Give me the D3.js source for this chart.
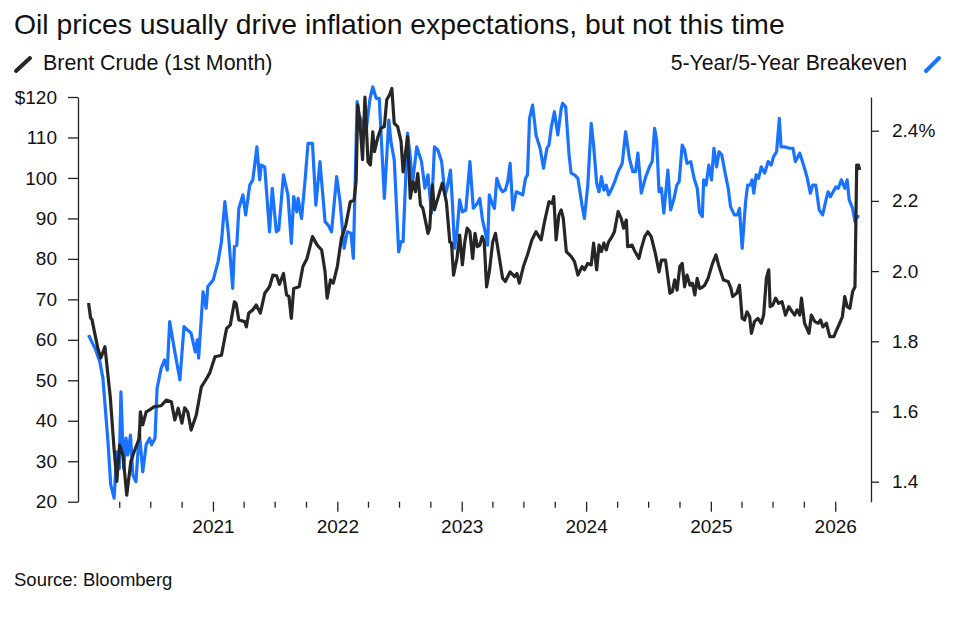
<!DOCTYPE html>
<html>
<head>
<meta charset="utf-8">
<script src="https://cdn.jsdelivr.net/npm/d3@7"></script>
<style>
  body { margin: 0; background: #fff; }
  text { font-family: "Liberation Sans", Arial, sans-serif; fill: #111; }
</style>
</head>
<body>
<div id="chart"></div>
<script>
const w = 959;
const h = 620;

const titleText = 'Oil prices usually drive inflation expectations, but not this time';
const brentLabel = 'Brent Crude (1st Month)';
const breakevenLabel = '5-Year/5-Year Breakeven';
const sourceText = 'Source: Bloomberg';

const leftTicks = [20, 30, 40, 50, 60, 70, 80, 90, 100, 110, 120];
const rightTicks = [1.4, 1.6, 1.8, 2.0, 2.2, 2.4];
const yearTicks = ['2021-01-01', '2022-01-01', '2023-01-01', '2024-01-01', '2025-01-01', '2026-01-01'];
const quarterTicks = [
    '2020-04-01', '2020-07-01', '2020-10-01', '2021-04-01', '2021-07-01', '2021-10-01',
    '2022-04-01', '2022-07-01', '2022-10-01', '2023-04-01', '2023-07-01', '2023-10-01',
    '2024-04-01', '2024-07-01', '2024-10-01', '2025-04-01', '2025-07-01', '2025-10-01'
];

// Brent crude, $ per barrel (left axis)
const brent = [
    ['2020-01-02', 69.1], ['2020-01-08', 65.4], ['2020-01-12', 65.0], ['2020-01-29', 58.0], ['2020-02-07', 55.5],
    ['2020-02-19', 58.3], ['2020-03-06', 45.6], ['2020-03-16', 34.0], ['2020-03-25', 25.0], ['2020-04-02', 34.0],
    ['2020-04-12', 31.5], ['2020-04-23', 21.6], ['2020-05-05', 29.9], ['2020-05-15', 32.4], ['2020-05-30', 35.7],
    ['2020-06-02', 42.2], ['2020-06-09', 39.0], ['2020-06-19', 42.2], ['2020-06-29', 42.7], ['2020-07-13', 43.5],
    ['2020-08-02', 43.7], ['2020-08-17', 45.1], ['2020-09-01', 44.7], ['2020-09-11', 40.2], ['2020-09-21', 43.1],
    ['2020-10-02', 39.4], ['2020-10-10', 43.2], ['2020-10-19', 42.2], ['2020-10-29', 37.7], ['2020-11-13', 41.4],
    ['2020-11-28', 48.4], ['2020-12-08', 49.7], ['2020-12-22', 51.7], ['2021-01-07', 55.8], ['2021-01-26', 56.2],
    ['2021-02-10', 62.8], ['2021-02-21', 63.7], ['2021-03-05', 69.4], ['2021-03-10', 69.0], ['2021-03-18', 64.9],
    ['2021-04-04', 64.5], ['2021-04-09', 63.2], ['2021-04-16', 66.6], ['2021-04-28', 67.4], ['2021-05-08', 68.6],
    ['2021-05-20', 66.6], ['2021-06-02', 71.5], ['2021-06-16', 73.1], ['2021-06-26', 76.0], ['2021-07-07', 75.8],
    ['2021-07-15', 73.7], ['2021-07-27', 76.4], ['2021-08-05', 71.1], ['2021-08-12', 70.7], ['2021-08-19', 65.3],
    ['2021-08-26', 72.7], ['2021-09-11', 73.1], ['2021-09-22', 78.1], ['2021-10-04', 80.1], ['2021-10-20', 85.5],
    ['2021-11-03', 83.4], ['2021-11-16', 82.2], ['2021-11-26', 76.8], ['2021-12-02', 70.3], ['2021-12-12', 74.8],
    ['2021-12-20', 74.0], ['2022-01-01', 78.1], ['2022-01-13', 85.1], ['2022-01-26', 88.4], ['2022-02-08', 94.1],
    ['2022-02-19', 94.5], ['2022-02-25', 99.1], ['2022-03-02', 118.0], ['2022-03-09', 113.0], ['2022-03-16', 104.5],
    ['2022-03-23', 120.0], ['2022-04-01', 104.0], ['2022-04-08', 103.2], ['2022-04-15', 111.4], ['2022-04-20', 106.5],
    ['2022-04-29', 109.8], ['2022-05-09', 112.3], ['2022-05-19', 112.7], ['2022-05-26', 119.3], ['2022-06-03', 120.5],
    ['2022-06-10', 122.1], ['2022-06-17', 113.5], ['2022-06-27', 112.7], ['2022-07-07', 109.0], ['2022-07-13', 101.5],
    ['2022-07-26', 110.2], ['2022-08-03', 95.0], ['2022-08-11', 99.1], ['2022-08-18', 96.6], ['2022-08-25', 101.1],
    ['2022-09-02', 93.3], ['2022-09-09', 92.5], ['2022-09-24', 86.3], ['2022-09-29', 87.6], ['2022-10-07', 98.3],
    ['2022-10-13', 92.1], ['2022-10-23', 95.0], ['2022-11-05', 98.7], ['2022-11-17', 94.1], ['2022-11-27', 84.2],
    ['2022-12-02', 83.9], ['2022-12-08', 76.0], ['2022-12-18', 80.1], ['2022-12-26', 85.9], ['2023-01-03', 78.5],
    ['2023-01-10', 84.2], ['2023-01-17', 87.6], ['2023-01-25', 86.7], ['2023-02-02', 80.1], ['2023-02-09', 86.3],
    ['2023-02-16', 83.0], ['2023-02-23', 83.4], ['2023-03-02', 85.5], ['2023-03-08', 84.2], ['2023-03-15', 73.1],
    ['2023-03-23', 76.8], ['2023-04-02', 84.2], ['2023-04-10', 86.3], ['2023-04-20', 81.0], ['2023-05-01', 75.2],
    ['2023-05-09', 74.4], ['2023-05-23', 76.8], ['2023-06-05', 75.6], ['2023-06-12', 76.4], ['2023-06-19', 74.0],
    ['2023-07-01', 78.1], ['2023-07-13', 81.0], ['2023-07-26', 84.7], ['2023-08-07', 86.7], ['2023-08-22', 84.7],
    ['2023-09-01', 89.2], ['2023-09-14', 94.1], ['2023-09-24', 93.7], ['2023-09-28', 95.4], ['2023-10-05', 84.7],
    ['2023-10-13', 90.8], ['2023-10-20', 92.1], ['2023-10-26', 90.0], ['2023-11-04', 81.8], ['2023-11-18', 80.6],
    ['2023-11-28', 79.3], ['2023-12-08', 76.0], ['2023-12-20', 78.1], ['2023-12-27', 77.3], ['2024-01-06', 78.9],
    ['2024-01-16', 78.5], ['2024-01-23', 83.9], ['2024-02-01', 77.3], ['2024-02-08', 83.4], ['2024-02-15', 81.8],
    ['2024-02-22', 83.9], ['2024-02-29', 82.2], ['2024-03-07', 84.2], ['2024-03-17', 85.5], ['2024-03-24', 86.7],
    ['2024-04-04', 91.7], ['2024-04-13', 90.0], ['2024-04-20', 87.6], ['2024-04-28', 89.6], ['2024-05-02', 83.0],
    ['2024-05-15', 83.4], ['2024-05-21', 82.2], ['2024-06-04', 80.1], ['2024-06-11', 82.6], ['2024-06-21', 85.5],
    ['2024-06-30', 86.7], ['2024-07-10', 85.5], ['2024-07-22', 81.4], ['2024-08-02', 76.8], ['2024-08-09', 79.7],
    ['2024-08-21', 79.7], ['2024-09-03', 71.5], ['2024-09-10', 71.9], ['2024-09-17', 74.8], ['2024-09-24', 72.3],
    ['2024-10-02', 78.1], ['2024-10-09', 78.9], ['2024-10-16', 73.1], ['2024-10-23', 76.0], ['2024-11-01', 73.5],
    ['2024-11-08', 74.0], ['2024-11-15', 71.1], ['2024-11-22', 75.2], ['2024-11-29', 72.7], ['2024-12-07', 73.0],
    ['2024-12-14', 73.5], ['2024-12-24', 75.2], ['2025-01-06', 78.9], ['2025-01-16', 81.0], ['2025-01-25', 78.1],
    ['2025-02-07', 74.8], ['2025-02-21', 74.4], ['2025-03-01', 72.7], ['2025-03-06', 70.7], ['2025-03-18', 71.5],
    ['2025-03-26', 73.5], ['2025-04-03', 65.3], ['2025-04-10', 64.9], ['2025-04-17', 66.9], ['2025-04-25', 65.7],
    ['2025-04-30', 61.6], ['2025-05-09', 64.5], ['2025-05-19', 65.3], ['2025-05-29', 64.1], ['2025-06-05', 66.1],
    ['2025-06-13', 75.2], ['2025-06-20', 77.3], ['2025-06-24', 68.2], ['2025-07-02', 68.6], ['2025-07-10', 70.3],
    ['2025-07-19', 69.0], ['2025-07-29', 69.4], ['2025-08-08', 66.1], ['2025-08-18', 68.2], ['2025-08-28', 66.9],
    ['2025-09-04', 66.1], ['2025-09-11', 67.4], ['2025-09-19', 66.1], ['2025-09-24', 70.3], ['2025-10-03', 64.1],
    ['2025-10-16', 61.6], ['2025-10-23', 66.1], ['2025-11-02', 64.5], ['2025-11-12', 64.1], ['2025-11-19', 64.9],
    ['2025-11-26', 63.2], ['2025-12-06', 64.1], ['2025-12-16', 60.8], ['2025-12-28', 60.8], ['2026-01-05', 62.4],
    ['2026-01-14', 64.1], ['2026-01-22', 65.7], ['2026-01-29', 70.7], ['2026-02-05', 68.2], ['2026-02-13', 67.8],
    ['2026-02-21', 71.9], ['2026-02-28', 73.1], ['2026-03-05', 103.2], ['2026-03-10', 103.2], ['2026-03-14', 102.0]
];

// 5-year/5-year forward breakeven, % (right axis)
const breakeven = [
    ['2020-01-02', 1.818], ['2020-01-11', 1.799], ['2020-01-21', 1.780], ['2020-02-04', 1.742], ['2020-02-13', 1.695],
    ['2020-02-28', 1.514], ['2020-03-07', 1.391], ['2020-03-17', 1.353], ['2020-03-25', 1.485], ['2020-04-01', 1.438],
    ['2020-04-06', 1.656], ['2020-04-14', 1.438], ['2020-04-21', 1.524], ['2020-04-26', 1.476], ['2020-05-04', 1.533],
    ['2020-05-11', 1.419], ['2020-05-20', 1.400], ['2020-05-30', 1.542], ['2020-06-09', 1.428], ['2020-06-19', 1.505],
    ['2020-06-29', 1.524], ['2020-07-05', 1.505], ['2020-07-15', 1.524], ['2020-07-21', 1.666], ['2020-08-02', 1.723],
    ['2020-08-12', 1.747], ['2020-08-20', 1.718], ['2020-08-27', 1.856], ['2020-09-11', 1.770], ['2020-09-26', 1.690],
    ['2020-10-08', 1.842], ['2020-10-29', 1.823], ['2020-11-10', 1.770], ['2020-11-16', 1.804], ['2020-11-20', 1.752],
    ['2020-12-03', 1.941], ['2020-12-12', 1.894], ['2020-12-17', 1.956], ['2021-01-02', 1.975], ['2021-01-16', 2.027],
    ['2021-01-26', 2.084], ['2021-02-05', 2.198], ['2021-02-15', 2.110], ['2021-02-28', 1.951], ['2021-03-05', 2.070],
    ['2021-03-12', 2.074], ['2021-03-18', 2.179], ['2021-03-30', 2.217], ['2021-04-07', 2.160], ['2021-04-19', 2.245],
    ['2021-04-28', 2.260], ['2021-05-10', 2.354], ['2021-05-18', 2.260], ['2021-05-23', 2.302], ['2021-06-02', 2.297],
    ['2021-06-16', 2.112], ['2021-06-24', 2.236], ['2021-07-06', 2.112], ['2021-07-13', 2.117], ['2021-07-27', 2.274],
    ['2021-08-09', 2.217], ['2021-08-19', 2.079], ['2021-08-26', 2.212], ['2021-09-04', 2.169], ['2021-09-08', 2.207],
    ['2021-09-18', 2.150], ['2021-09-28', 2.255], ['2021-10-07', 2.364], ['2021-10-20', 2.364], ['2021-10-30', 2.188],
    ['2021-11-11', 2.312], ['2021-11-26', 2.141], ['2021-12-05', 2.131], ['2021-12-15', 2.112], ['2021-12-30', 2.269],
    ['2022-01-09', 2.198], ['2022-01-21', 2.065], ['2022-01-30', 2.112], ['2022-02-10', 2.108], ['2022-02-17', 2.036],
    ['2022-02-28', 2.483], ['2022-03-06', 2.445], ['2022-03-26', 2.397], ['2022-04-07', 2.492], ['2022-04-15', 2.525],
    ['2022-04-25', 2.492], ['2022-05-04', 2.492], ['2022-05-19', 2.207], ['2022-06-01', 2.430], ['2022-06-08', 2.364],
    ['2022-06-17', 2.317], ['2022-06-30', 2.055], ['2022-07-07', 2.084], ['2022-07-13', 2.084], ['2022-07-26', 2.393],
    ['2022-08-03', 2.326], ['2022-08-09', 2.245], ['2022-08-22', 2.354], ['2022-09-05', 2.312], ['2022-09-15', 2.236],
    ['2022-09-24', 2.274], ['2022-10-04', 2.165], ['2022-10-13', 2.354], ['2022-10-23', 2.345], ['2022-11-03', 2.312],
    ['2022-11-13', 2.217], ['2022-11-19', 2.236], ['2022-11-29', 2.288], ['2022-12-05', 2.188], ['2022-12-11', 2.065],
    ['2022-12-18', 2.112], ['2022-12-26', 2.203], ['2023-01-03', 2.169], ['2023-01-13', 2.174], ['2023-01-25', 2.312],
    ['2023-02-04', 2.179], ['2023-02-16', 2.193], ['2023-02-23', 2.207], ['2023-03-03', 2.146], ['2023-03-11', 2.112],
    ['2023-03-18', 2.074], ['2023-03-23', 2.217], ['2023-03-31', 2.193], ['2023-04-07', 2.179], ['2023-04-14', 2.264],
    ['2023-04-24', 2.236], ['2023-05-01', 2.226], ['2023-05-09', 2.231], ['2023-05-16', 2.255], ['2023-05-23', 2.307],
    ['2023-05-31', 2.174], ['2023-06-10', 2.226], ['2023-06-19', 2.222], ['2023-06-29', 2.217], ['2023-07-07', 2.264],
    ['2023-07-13', 2.274], ['2023-07-19', 2.435], ['2023-07-28', 2.473], ['2023-08-07', 2.388], ['2023-08-19', 2.350],
    ['2023-08-29', 2.293], ['2023-09-08', 2.350], ['2023-09-14', 2.359], ['2023-09-21', 2.411], ['2023-09-30', 2.454],
    ['2023-10-10', 2.388], ['2023-10-20', 2.464], ['2023-10-24', 2.478], ['2023-11-02', 2.468], ['2023-11-12', 2.331],
    ['2023-11-18', 2.279], ['2023-11-28', 2.274], ['2023-12-08', 2.264], ['2023-12-20', 2.188], ['2023-12-27', 2.150],
    ['2024-01-06', 2.245], ['2024-01-16', 2.421], ['2024-01-23', 2.359], ['2024-02-01', 2.250], ['2024-02-08', 2.226],
    ['2024-02-15', 2.269], ['2024-02-22', 2.231], ['2024-02-29', 2.245], ['2024-03-07', 2.217], ['2024-03-17', 2.236],
    ['2024-03-27', 2.260], ['2024-04-04', 2.283], ['2024-04-16', 2.307], ['2024-04-26', 2.397], ['2024-05-07', 2.321],
    ['2024-05-17', 2.283], ['2024-05-25', 2.283], ['2024-06-01', 2.336], ['2024-06-11', 2.222], ['2024-06-24', 2.269],
    ['2024-07-05', 2.297], ['2024-07-13', 2.312], ['2024-07-20', 2.407], ['2024-07-26', 2.373], ['2024-08-02', 2.226],
    ['2024-08-09', 2.236], ['2024-08-16', 2.165], ['2024-08-28', 2.288], ['2024-09-05', 2.174], ['2024-09-15', 2.207],
    ['2024-09-23', 2.245], ['2024-09-30', 2.255], ['2024-10-09', 2.359], ['2024-10-16', 2.345], ['2024-10-23', 2.307],
    ['2024-11-03', 2.312], ['2024-11-13', 2.264], ['2024-11-22', 2.236], ['2024-11-29', 2.167], ['2024-12-07', 2.155],
    ['2024-12-11', 2.260], ['2024-12-18', 2.245], ['2024-12-26', 2.302], ['2025-01-03', 2.260], ['2025-01-10', 2.350],
    ['2025-01-18', 2.297], ['2025-01-25', 2.340], ['2025-02-02', 2.331], ['2025-02-12', 2.279], ['2025-02-21', 2.236],
    ['2025-02-28', 2.183], ['2025-03-11', 2.160], ['2025-03-20', 2.160], ['2025-03-26', 2.179], ['2025-04-03', 2.065],
    ['2025-04-13', 2.198], ['2025-04-19', 2.245], ['2025-04-27', 2.245], ['2025-05-02', 2.260], ['2025-05-07', 2.222],
    ['2025-05-14', 2.274], ['2025-05-21', 2.264], ['2025-05-29', 2.297], ['2025-06-08', 2.279], ['2025-06-18', 2.312],
    ['2025-06-27', 2.302], ['2025-07-04', 2.326], ['2025-07-13', 2.340], ['2025-07-21', 2.435], ['2025-07-26', 2.354],
    ['2025-08-05', 2.354], ['2025-08-20', 2.350], ['2025-08-30', 2.350], ['2025-09-06', 2.312], ['2025-09-19', 2.336],
    ['2025-09-30', 2.302], ['2025-10-10', 2.269], ['2025-10-20', 2.222], ['2025-10-27', 2.245], ['2025-11-05', 2.245],
    ['2025-11-15', 2.174], ['2025-11-25', 2.160], ['2025-12-05', 2.203], ['2025-12-11', 2.226], ['2025-12-18', 2.212],
    ['2025-12-26', 2.226], ['2026-01-03', 2.240], ['2026-01-10', 2.236], ['2026-01-19', 2.260], ['2026-01-29', 2.236],
    ['2026-02-05', 2.260], ['2026-02-11', 2.203], ['2026-02-21', 2.179], ['2026-02-28', 2.141], ['2026-03-05', 2.155],
    ['2026-03-13', 2.155]
];

const parse = d3.timeParse('%Y-%m-%d');
const brentColor = '#262626';
const blueColor = '#1a73ff';

const plotLeft = 78, plotRight = 871, plotTop = 97, plotBottom = 501.7;

const svg = d3.select('#chart')
    .append('svg')
    .attr('width', w)
    .attr('height', h)
    .style('background-color', '#fff');

const xScale = d3.scaleTime()
    .domain([parse('2019-12-02'), parse('2026-04-16')])
    .range([plotLeft, plotRight]);
const yLeft = d3.scaleLinear().domain([20, 120]).range([plotBottom, plotTop]);
const yRight = d3.scaleLinear().domain([1.343, 2.496]).range([plotBottom, plotTop]);

// title, legend, source
svg.append('text').attr('x', 14).attr('y', 34)
    .style('font-size', '28.3px').text(titleText);

svg.append('line')
    .attr('x1', 16).attr('y1', 71).attr('x2', 30).attr('y2', 58)
    .attr('stroke', brentColor).attr('stroke-width', 4).attr('stroke-linecap', 'round');
svg.append('text').attr('x', 43).attr('y', 70)
    .style('font-size', '21.4px').text(brentLabel);

svg.append('line')
    .attr('x1', 926).attr('y1', 71).attr('x2', 939).attr('y2', 58)
    .attr('stroke', blueColor).attr('stroke-width', 4).attr('stroke-linecap', 'round');
svg.append('text').attr('x', 907).attr('y', 70)
    .attr('text-anchor', 'end')
    .style('font-size', '21.2px').text(breakevenLabel);

svg.append('text').attr('x', 14).attr('y', 586)
    .style('font-size', '18.5px').text(sourceText);

// axes
const yAxisL = d3.axisLeft(yLeft)
    .tickValues(leftTicks)
    .tickSize(10).tickSizeOuter(0).tickPadding(11)
    .tickFormat(d => d === 120 ? '$120' : d);
svg.append('g')
    .attr('id', 'y-axis-left')
    .attr('transform', 'translate(' + plotLeft + ',0)')
    .call(yAxisL);

const yAxisR = d3.axisRight(yRight)
    .tickValues(rightTicks)
    .tickSize(8).tickSizeOuter(0).tickPadding(13)
    .tickFormat(d => d === 2.4 ? '2.4%' : d3.format('.1f')(d));
svg.append('g')
    .attr('id', 'y-axis-right')
    .attr('transform', 'translate(' + plotRight + ',0)')
    .call(yAxisR);

const xMinor = d3.axisBottom(xScale)
    .tickValues(quarterTicks.map(parse))
    .tickSize(6).tickFormat('');
svg.append('g')
    .attr('class', 'x-minor')
    .attr('transform', 'translate(0,' + plotBottom + ')')
    .call(xMinor);

const xMajor = d3.axisBottom(xScale)
    .tickValues(yearTicks.map(parse))
    .tickSize(10).tickPadding(8)
    .tickFormat(d3.timeFormat('%Y'));
svg.append('g')
    .attr('class', 'x-major')
    .attr('transform', 'translate(0,' + plotBottom + ')')
    .call(xMajor);

svg.selectAll('.x-minor .domain, .x-major .domain').remove();
svg.selectAll('.tick text').style('font-size', '19px').attr('fill', '#111');
svg.selectAll('.tick line, .domain').attr('stroke', '#222').attr('stroke-width', 1.3);

// lines
const lineL = d3.line().x(d => xScale(parse(d[0]))).y(d => yLeft(d[1]));
const lineR = d3.line().x(d => xScale(parse(d[0]))).y(d => yRight(d[1]));

svg.append('path')
    .datum(breakeven)
    .attr('d', lineR)
    .attr('fill', 'none')
    .attr('stroke', blueColor)
    .attr('stroke-width', 3.2)
    .attr('stroke-linejoin', 'round');

svg.append('path')
    .datum(brent)
    .attr('d', lineL)
    .attr('fill', 'none')
    .attr('stroke', brentColor)
    .attr('stroke-width', 3.2)
    .attr('stroke-linejoin', 'round');
</script>
</body>
</html>
